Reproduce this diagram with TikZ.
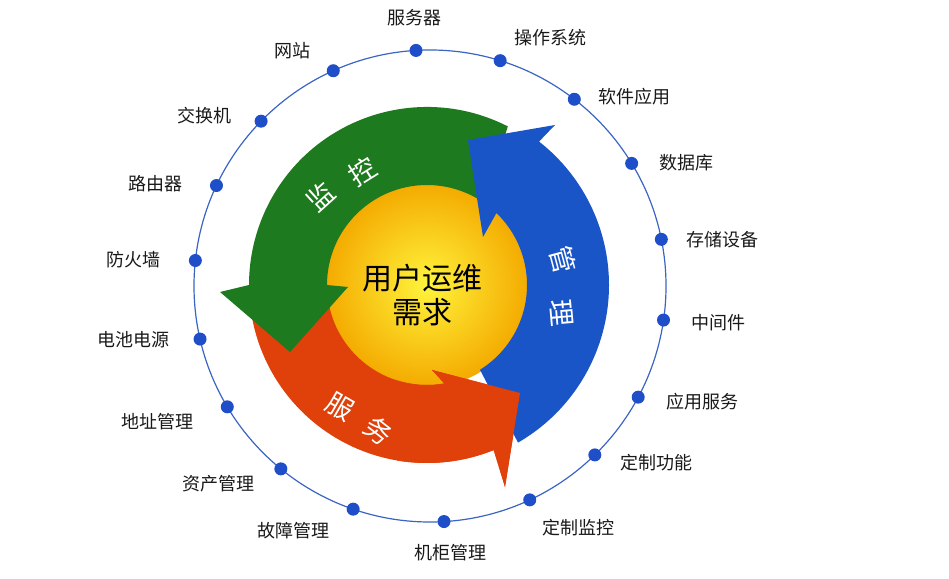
\documentclass[tikz,border=0pt]{standalone}
\usetikzlibrary{calc}
\usepackage{fontspec}
\setmainfont{Noto Sans CJK SC}
\begin{document}
\begin{tikzpicture}[x=1pt,y=1pt,
  lbl/.style={font=\fontsize{18}{18}\selectfont, text=black!90},
  dot/.style={circle,fill=dotblue,inner sep=0pt,minimum size=13pt},
  arrtxt/.style={font=\fontsize{27}{27}\selectfont, text=white}]
\definecolor{dotblue}{HTML}{1F4FC8}
\definecolor{ringblue}{HTML}{3A64C4}
\definecolor{agreen}{HTML}{1E7A1E}
\definecolor{ared}{HTML}{E0400A}
\definecolor{ablue}{HTML}{1A55C8}
\useasboundingbox (0,0) rectangle (949,578);
% outer ring
\draw[ringblue,line width=1.2pt] (430,292) circle[radius=236];
\foreach \a/\n in {93.4/d1,72.7/d2,52.3/d3,31.3/d4,11.4/d5,-8.3/d6,-28.1/d7,-45.7/d8,-65/d9,-86.6/d10,-109/d11,-129.2/d12,-149.2/d13,-167/d14,173.8/d15,154.8/d16,135.7/d17,114.2/d18}
  \node[dot] (\n) at ($(430,292)+(\a:236)$) {};
% labels
\node[lbl] (l1) at (414,560) {服务器};
\node[lbl] (l2) at (550,540) {操作系统};
\node[lbl] (l3) at (634,481) {软件应用};
\node[lbl] (l4) at (686,415) {数据库};
\node[lbl] (l5) at (722,338) {存储设备};
\node[lbl] (l6) at (718,255) {中间件};
\node[lbl] (l7) at (702,176) {应用服务};
\node[lbl] (l8) at (656,115) {定制功能};
\node[lbl] (l9) at (578,50) {定制监控};
\node[lbl] (l10) at (450,25) {机柜管理};
\node[lbl] (l11) at (293,47) {故障管理};
\node[lbl] (l12) at (218,94) {资产管理};
\node[lbl] (l13) at (157,156) {地址管理};
\node[lbl] (l14) at (133,238) {电池电源};
\node[lbl] (l15) at (133,318) {防火墙};
\node[lbl] (l16) at (155,394) {路由器};
\node[lbl] (l17) at (204,462) {交换机};
\node[lbl] (l18) at (292,527) {网站};
% centre ball
\shade[inner color={rgb,255:red,255;green,244;blue,60}, outer color={rgb,255:red,244;green,170;blue,0}] (427,293) circle[radius=102];
\begin{scope}[shift={(427,293)}]
\def\redshape{(191:178) arc[start angle=191,end angle=292,radius=178] -- (78,-202) -- (93,-108) -- (5,-85) -- (280:100) arc[start angle=280,end angle=191,radius=100] -- cycle}
\fill[ared] \redshape;
\fill[agreen] (63:178) arc[start angle=63,end angle=180,radius=178] -- (-207,-7) -- (-137,-67) -- (-79,-2) -- (180:100) arc[start angle=180,end angle=55,radius=100] -- cycle;
\fill[ablue] (-60:182) arc[start angle=-60,end angle=52,radius=182] -- (128,160) -- (41,145) -- (56,48) -- (70,73) -- (46:100) arc[start angle=46,end angle=-58,radius=100] -- cycle;
\begin{scope}
\clip (-30,-250) rectangle (200,-60);
\fill[ared] \redshape;
\end{scope}
\end{scope}
\node[arrtxt,rotate=42] (t1) at (320,381) {监};
\node[arrtxt,rotate=32] (t2) at (362,406) {控};
\node[arrtxt,rotate=-75] (t3) at (563,318) {管};
\node[arrtxt,rotate=-85] (t4) at (562,265) {理};
\node[arrtxt,rotate=-30] (t5) at (340,171) {服};
\node[arrtxt,rotate=-38] (t6) at (378,147) {务};
\node[font=\fontsize{30}{34}\selectfont,align=center] (c) at (422,283) {用户运维\\需求};
\end{tikzpicture}
\end{document}
